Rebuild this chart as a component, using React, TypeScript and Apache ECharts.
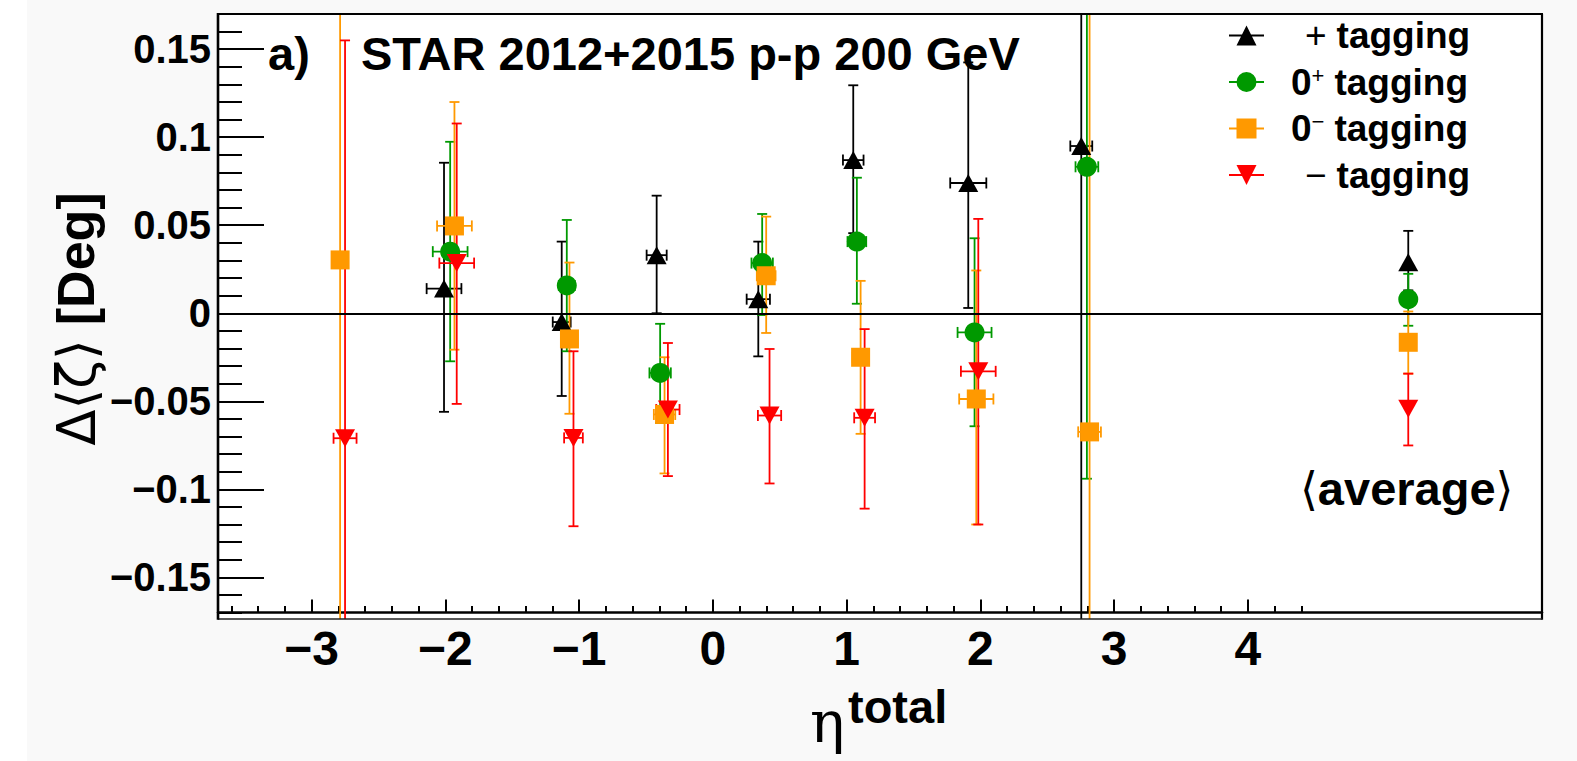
import React, { useEffect, useRef } from 'react';
import * as echarts from 'echarts';

// ---------- axis ticks ----------
const xMajorTicks = [-3, -2, -1, 0, 1, 2, 3, 4];
const xMinorTicks: number[] = [];
for (let i = -18; i <= 22; i++) xMinorTicks.push(Math.round(i * 2) / 10);
const yMajorTicks = [-0.15, -0.1, -0.05, 0, 0.05, 0.1, 0.15];
const yMinorTicks: number[] = [];
for (let i = -17; i <= 17; i++) yMinorTicks.push(i / 100);

// ---------- data: x, y, x error, lower y end, upper y end ----------
// "+ tagging"
const plusX = [-2.01, -1.13, -0.42, 0.34, 1.05, 1.91, 2.755, 5.2];
const plusY = [0.014, -0.005, 0.033, 0.008, 0.087, 0.074, 0.095, 0.029];
const plusXErr = [0.13, 0.067, 0.075, 0.087, 0.077, 0.135, 0.082, 0];
const plusLow = [-0.056, -0.047, 0.0, -0.0245, 0.0455, 0.003, -1, 0.013];
const plusHigh = [0.0855, 0.0407, 0.0668, 0.0407, 0.1295, 0.1425, 1, 0.0468];

// "0+ tagging"
const zpX = [-1.964, -1.092, -0.394, 0.369, 1.077, 1.957, 2.797, 5.2];
const zpY = [0.035, 0.0158, -0.0339, 0.0285, 0.0407, -0.0109, 0.0832, 0.008];
const zpXErr = [0.13, 0.06, 0.08, 0.08, 0.07, 0.127, 0.085, 0];
const zpLow = [-0.0273, -0.0216, -0.0623, -0.001, 0.0054, -0.0642, -0.094, -0.0071];
const zpHigh = [0.0974, 0.053, -0.006, 0.0564, 0.077, 0.0426, 1, 0.0224];

// "0- tagging"
const zmX = [-2.787, -1.932, -1.072, -0.361, 0.399, 1.105, 1.97, 2.817, 5.2];
const zmY = [0.0303, 0.0496, -0.0146, -0.0575, 0.0213, -0.025, -0.0487, -0.0674, -0.0165];
const zmXErr = [0.04, 0.13, 0.06, 0.08, 0.07, 0.06, 0.128, 0.085, 0];
const zmLow = [-1, -0.0207, -0.0571, -0.091, -0.0112, -0.0685, -0.12, -1, -0.0343];
const zmHigh = [0.17, 0.12, 0.0288, -0.025, 0.0549, 0.0184, 0.0243, 1, 0.001];

// "- tagging"
const minusX = [-2.75, -1.915, -1.042, -0.336, 0.424, 1.135, 1.985, 5.2];
const minusY = [-0.071, 0.0285, -0.0708, -0.0547, -0.0581, -0.0594, -0.033, -0.0543];
const minusXErr = [0.086, 0.13, 0.07, 0.087, 0.087, 0.078, 0.13, 0];
const minusLow = [-1, -0.0515, -0.121, -0.0925, -0.0967, -0.111, -0.12, -0.0751];
const minusHigh = [0.155, 0.1078, -0.0216, -0.0169, -0.0203, -0.009, 0.0536, -0.0343];

const seriesNames = ['+ tagging', '0\u207A tagging', '0\u207B tagging', '\u2212 tagging'];

function rows(xs: number[], ys: number[], xe: number[], lo: number[], hi: number[]) {
  return xs.map((x, i) => [x, ys[i], xe[i], lo[i], hi[i]]);
}

const FRAME_LEFT = 218;
const FRAME_RIGHT = 1542;
const FRAME_TOP = 14;
const AXIS_Y = 612.5;
const FRAME_BOTTOM = 619;

const SANS = "'Liberation Sans', Arial, Helvetica, sans-serif";

const ICON_UP = 'path://M0 9 H35 V11 H0 Z M7.5 20 L17.5 0 L27.5 20 Z';
const ICON_CIRCLE = 'path://M0 9 H35 V11 H0 Z M7.5 10 A10 10 0 1 1 27.5 10 A10 10 0 1 1 7.5 10 Z';
const ICON_SQUARE = 'path://M0 9 H35 V11 H0 Z M7.5 0 H27.5 V20 H7.5 Z';
const ICON_DOWN = 'path://M0 9 H35 V11 H0 Z M7.5 0 L27.5 0 L17.5 20 Z';

const groups = [
  { name: seriesNames[0], color: '#000000', symbol: 'triangle', size: [20, 18], data: rows(plusX, plusY, plusXErr, plusLow, plusHigh), icon: ICON_UP },
  { name: seriesNames[1], color: '#009900', symbol: 'circle', size: 20, data: rows(zpX, zpY, zpXErr, zpLow, zpHigh), icon: ICON_CIRCLE },
  { name: seriesNames[2], color: '#ff9900', symbol: 'rect', size: 19, data: rows(zmX, zmY, zmXErr, zmLow, zmHigh), icon: ICON_SQUARE },
  { name: seriesNames[3], color: '#ff0000', symbol: 'path://M0 0 L20 0 L10 18 Z', size: [20, 18], data: rows(minusX, minusY, minusXErr, minusLow, minusHigh), icon: ICON_DOWN },
];

function errRender(color: string) {
  return (params: any, api: any) => {
    const x = api.value(0);
    const y = api.value(1);
    const xe = api.value(2);
    const lo = api.value(3);
    const hi = api.value(4);
    const c = api.coord([x, y]);
    const pHi = api.coord([x, hi]);
    const pLo = api.coord([x, lo]);
    const style = { stroke: color, lineWidth: 1.8, fill: null };
    const ch: any[] = [];
    const yTop = Math.max(pHi[1], FRAME_TOP);
    const yBot = Math.min(pLo[1], FRAME_BOTTOM);
    ch.push({ type: 'line', shape: { x1: c[0], y1: yTop, x2: c[0], y2: yBot }, style });
    if (pHi[1] >= FRAME_TOP - 1) ch.push({ type: 'line', shape: { x1: c[0] - 5, y1: pHi[1], x2: c[0] + 5, y2: pHi[1] }, style });
    if (pLo[1] <= FRAME_BOTTOM + 1) ch.push({ type: 'line', shape: { x1: c[0] - 5, y1: pLo[1], x2: c[0] + 5, y2: pLo[1] }, style });
    if (xe > 0) {
      const pl = api.coord([x - xe, y]);
      const pr = api.coord([x + xe, y]);
      ch.push({ type: 'line', shape: { x1: pl[0], y1: c[1], x2: pr[0], y2: c[1] }, style });
      ch.push({ type: 'line', shape: { x1: pl[0], y1: c[1] - 5.5, x2: pl[0], y2: c[1] + 5.5 }, style });
      ch.push({ type: 'line', shape: { x1: pr[0], y1: c[1] - 5.5, x2: pr[0], y2: c[1] + 5.5 }, style });
    }
    return { type: 'group', children: ch };
  };
}

const fmt = (v: number) => String(Math.round(v * 100) / 100).replace('-', '\u2212');

const legendRich: Record<string, string> = {
  [seriesNames[0]]: '{op|+}{b|tagging}',
  [seriesNames[1]]: '{z|0}{sup|+}{b|tagging}',
  [seriesNames[2]]: '{z|0}{sup|\u2212}{b|tagging}',
  [seriesNames[3]]: '{op|\u2212}{b|tagging}',
};

export default function App() {
  const ref = useRef<HTMLDivElement>(null);
  useEffect(() => {
    if (!ref.current) return;
    const chart = echarts.init(ref.current, undefined, { renderer: 'svg' });
    const series: any[] = [];
    groups.forEach((g, gi) => {
      series.push({
        type: 'custom',
        name: g.name + ' errors',
        renderItem: errRender(g.color),
        data: g.data,
        encode: { x: 0, y: 1 },
        clip: false,
        silent: true,
        z: 2,
      });
      const sc: any = {
        type: 'scatter',
        name: g.name,
        data: g.data.map((r) => [r[0], r[1]]),
        symbol: g.symbol,
        symbolSize: g.size,
        itemStyle: { color: g.color, opacity: 1 },
        silent: true,
        z: 2,
      };
      if (gi === 0) {
        sc.markLine = {
          silent: true,
          symbol: ['none', 'none'],
          label: { show: false },
          lineStyle: { color: '#000', width: 2, type: 'solid' },
          data: [{ yAxis: 0 }],
        };
      }
      series.push(sc);
    });

    const option: any = {
      animation: false,
      backgroundColor: '#f9f9f9',
      grid: {
        left: FRAME_LEFT,
        right: 1577 - FRAME_RIGHT,
        top: FRAME_TOP,
        bottom: 761 - AXIS_Y,
        show: true,
        backgroundColor: '#ffffff',
        borderWidth: 0,
      },
      xAxis: [
        {
          type: 'value', min: -3.7, max: 6.2, position: 'bottom',
          axisLine: { show: true, onZero: false, lineStyle: { color: '#000', width: 2.5 } },
          axisTick: { show: true, inside: true, length: 13, customValues: xMajorTicks, lineStyle: { color: '#000', width: 2 } },
          axisLabel: { show: true, customValues: xMajorTicks, formatter: fmt, fontSize: 48, fontWeight: 'bold', fontFamily: SANS, color: '#000', margin: 12 },
          splitLine: { show: false },
        },
        {
          type: 'value', min: -3.7, max: 6.2, position: 'bottom',
          axisLine: { show: false, onZero: false },
          axisTick: { show: true, inside: true, length: 6.5, customValues: xMinorTicks, lineStyle: { color: '#000', width: 2 } },
          axisLabel: { show: false },
          splitLine: { show: false },
        },
      ],
      yAxis: [
        {
          type: 'value', min: -0.17, max: 0.17, position: 'left',
          axisLine: { show: false, onZero: false },
          axisTick: { show: true, inside: true, length: 46, customValues: yMajorTicks, lineStyle: { color: '#000', width: 2 } },
          axisLabel: { show: true, customValues: yMajorTicks, formatter: fmt, fontSize: 40, fontWeight: 'bold', fontFamily: SANS, color: '#000', margin: 7 },
          splitLine: { show: false },
        },
        {
          type: 'value', min: -0.17, max: 0.17, position: 'left',
          axisLine: { show: false, onZero: false },
          axisTick: { show: true, inside: true, length: 24, customValues: yMinorTicks, lineStyle: { color: '#000', width: 2 } },
          axisLabel: { show: false },
          splitLine: { show: false },
        },
      ],
      legend: {
        orient: 'vertical',
        left: 1229,
        top: 17,
        padding: 0,
        itemGap: 9.5,
        itemWidth: 35,
        itemHeight: 20,
        selectedMode: false,
        data: groups.map((g) => ({ name: g.name, icon: g.icon })),
        formatter: (name: string) => legendRich[name],
        textStyle: {
          color: '#000',
          fontFamily: SANS,
          fontSize: 37,
          fontWeight: 'bold',
          rich: {
            op: { fontFamily: SANS, fontSize: 37, fontWeight: 'normal', padding: [0, 0, 0, 36], lineHeight: 36, color: '#000' },
            z: { fontFamily: SANS, fontSize: 37, fontWeight: 'bold', padding: [0, 0, 0, 22], lineHeight: 36, color: '#000' },
            sup: { fontFamily: SANS, fontSize: 22, fontWeight: 'normal', verticalAlign: 'top', lineHeight: 16, color: '#000' },
            b: { fontFamily: SANS, fontSize: 37, fontWeight: 'bold', padding: [0, 0, 0, 10], lineHeight: 36, color: '#000' },
          },
        },
      },
      graphic: [
        { type: 'rect', silent: true, z: 0, shape: { x: 0, y: 0, width: 27, height: 761 }, style: { fill: '#ffffff' } },
        { type: 'rect', silent: true, z: 0, shape: { x: FRAME_LEFT + 1, y: AXIS_Y + 1.3, width: FRAME_RIGHT - FRAME_LEFT - 2, height: FRAME_BOTTOM - AXIS_Y - 1.3 }, style: { fill: '#ffffff' } },
        { type: 'line', silent: true, z: 10, shape: { x1: FRAME_LEFT, y1: FRAME_TOP, x2: FRAME_RIGHT + 1, y2: FRAME_TOP }, style: { stroke: '#000', lineWidth: 2.2 } },
        { type: 'line', silent: true, z: 10, shape: { x1: FRAME_RIGHT, y1: FRAME_TOP, x2: FRAME_RIGHT, y2: FRAME_BOTTOM + 0.7 }, style: { stroke: '#000', lineWidth: 2.2 } },
        { type: 'line', silent: true, z: 10, shape: { x1: FRAME_LEFT, y1: FRAME_BOTTOM, x2: FRAME_RIGHT, y2: FRAME_BOTTOM }, style: { stroke: '#222', lineWidth: 1.5 } },
        { type: 'line', silent: true, z: 10, shape: { x1: FRAME_LEFT, y1: FRAME_TOP - 1, x2: FRAME_LEFT, y2: FRAME_BOTTOM + 0.7 }, style: { stroke: '#000', lineWidth: 2.6 } },
        { type: 'text', silent: true, z: 10, x: 268, y: 53.7, style: { text: 'a)', fontFamily: SANS, fontSize: 47, fontWeight: 'bold', fill: '#000', align: 'left', verticalAlign: 'middle' } },
        { type: 'text', silent: true, z: 10, x: 361, y: 53.7, style: { text: 'STAR 2012+2015 p-p 200 GeV', fontFamily: SANS, fontSize: 47, fontWeight: 'bold', fill: '#000', align: 'left', verticalAlign: 'middle' } },
        {
          type: 'text', silent: true, z: 10, x: 1406.7, y: 488.7,
          style: {
            text: '{r|\u27E8}{b|average}{r|\u27E9}', align: 'center', verticalAlign: 'middle',
            rich: {
              r: { fontFamily: "'DejaVu Sans', sans-serif", fontSize: 46, fontWeight: 'normal', fill: '#000' },
              b: { fontFamily: SANS, fontSize: 47, fontWeight: 'bold', fill: '#000' },
            },
          },
        },
        { type: 'text', silent: true, z: 10, x: 810, y: 722, style: { text: '\u03B7', fontFamily: "'DejaVu Serif', serif", fontSize: 58, fill: '#000', align: 'left', verticalAlign: 'middle' } },
        { type: 'text', silent: true, z: 10, x: 848, y: 706.7, style: { text: 'total', fontFamily: SANS, fontSize: 47, fontWeight: 'bold', fill: '#000', align: 'left', verticalAlign: 'middle' } },
        {
          type: 'text', silent: true, z: 10, x: 76, y: 319, rotation: Math.PI / 2,
          style: {
            text: '{n|\u0394\u27E8\u03B6\u27E9}{b|[Deg]}', align: 'center', verticalAlign: 'middle',
            rich: {
              n: { fontFamily: "'DejaVu Sans', sans-serif", fontSize: 53, fontWeight: 'normal', fill: '#000' },
              b: { fontFamily: SANS, fontSize: 52, fontWeight: 'bold', fill: '#000', padding: [0, 0, 0, 14] },
            },
          },
        },
      ],
      series,
    };
    chart.setOption(option);
    return () => chart.dispose();
  }, []);
  return (
    <div
      ref={ref}
      style={{ position: 'absolute', left: 0, top: 0, width: 1577, height: 761 }}
    />
  );
}
